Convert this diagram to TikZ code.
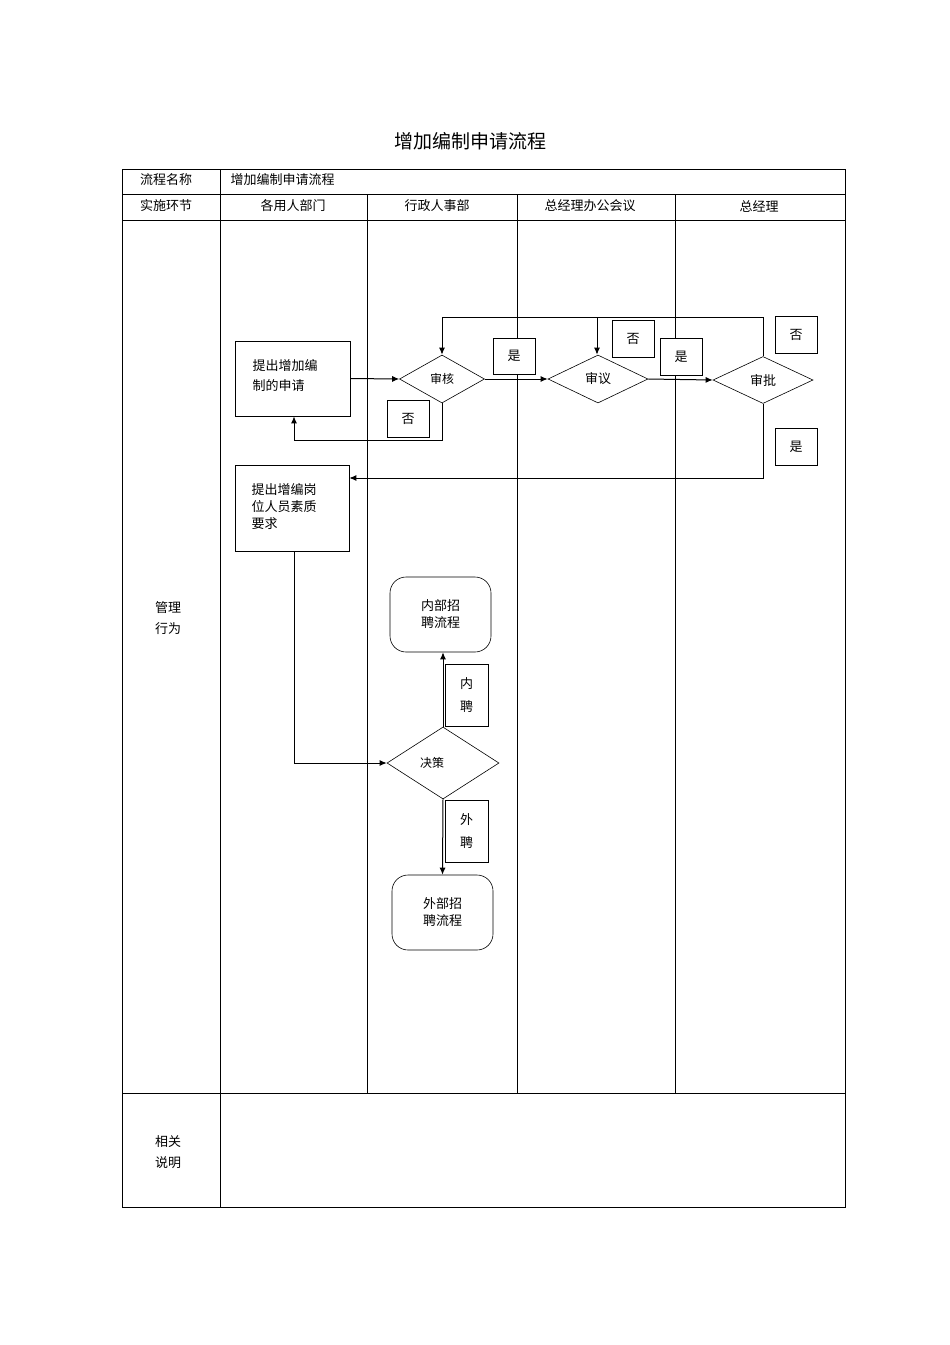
\documentclass[tikz,border=0pt]{standalone}
\usepackage{fontspec}
\setmainfont{Liberation Serif}
\newfontfamily\cjk{Noto Sans CJK SC}
\usetikzlibrary{shapes.geometric,arrows.meta}
\begin{document}
\begin{tikzpicture}[x=1pt,y=-1pt,font=\cjk\fontsize{13}{17}\selectfont,
 ln/.style={line width=0.6pt},
 box/.style={draw,line width=0.8pt,anchor=north west,align=left,inner sep=0},
 dia/.style={draw,diamond,aspect=1.8,inner sep=0,line width=0.6pt},
 term/.style={draw,rounded corners=16pt,inner sep=0,line width=0.6pt,align=center},
 lab/.style={draw,line width=0.6pt,inner sep=0,fill=white},
 ar/.style={line width=1pt,-{Latex[length=7pt,width=6pt]}}]
\useasboundingbox (0,0) rectangle (950,1345);
\node (title) at (470,141) {\fontsize{19}{22}\selectfont 增加编制申请流程};
% table
\draw[ln] (122,169) rectangle (845,1207);
\foreach \y in {194,220,1093} \draw[ln] (122,\y) -- (845,\y);
\draw[ln] (220,169) -- (220,1207);
\foreach \x in {367,517,675} \draw[ln] (\x,194) -- (\x,1093);
\node (h1) at (166,180) {流程名称};
\node[anchor=west] (h2) at (227,180) {增加编制申请流程};
\node (c1) at (166,206) {实施环节};
\node (c2) at (293,206) {各用人部门};
\node (c3) at (437,206) {行政人事部};
\node (c4) at (590,206) {总经理办公会议};
\node (c5) at (759,206) {总经理};
\node[align=center] (r1) at (168,618) {管理\\[4pt]行为};
\node[align=center] (r2) at (168,1152) {相关\\[4pt]说明};
% nodes
\node[draw,line width=0.8pt,minimum width=115pt,minimum height=75pt] (A) at (292.5,378.5) {};
\node[align=left] at (285,376) {提出增加编\\[3pt]制的申请};
\node[dia,minimum width=85pt,minimum height=48pt,font=\cjk\fontsize{12}{14}\selectfont] (sh) at (442,379) {审核};
\node[dia,minimum width=100pt,minimum height=48pt] (sy) at (598,379) {审议};
\node[dia,minimum width=100pt,minimum height=47pt] (sp) at (763,380) {审批};
\node[draw,line width=0.6pt,minimum width=114pt,minimum height=86pt] (B) at (292,508) {};
\node[align=left] at (284,507) {提出增编岗\\位人员素质\\要求};
\node[dia,minimum width=112pt,minimum height=72pt,font=\cjk\fontsize{12}{14}\selectfont] (jc) at (443,763) {\hspace*{-22pt}决策};
\node[term,minimum width=101pt,minimum height=75pt] (nb) at (440.5,614.5) {内部招\\聘流程};
\node[term,minimum width=101pt,minimum height=75pt] (wb) at (442.5,912.5) {外部招\\聘流程};
% edges
\draw[ar] (A.east) -- (sh.west);
\draw[ar] (sh.east) -- (sy.west);
\draw[ar] (sy.east) -- (sp.west);
\coordinate (k1) at (442,440); \coordinate (k2) at (294,440);
\draw[ar] (sh.south) -- (k1) -- (k2) -- (A.south -| k2);
\coordinate (t1) at (763,317); \coordinate (t2) at (442,317); \coordinate (t3) at (597,317);
\draw[ar] (sp.north) -- (t1) -- (t2) -- (sh.north);
\draw[ar] (t3) -- (sy.north -| t3);
\coordinate (b1) at (763,478);
\draw[ar] (sp.south) -- (b1) -- (B.east |- b1);
\coordinate (d1) at (294,763);
\draw[ar] (B.south -| d1) -- (d1) -- (jc.west);
\draw[ar] (jc.north) -- (nb.south -| jc.north);
\draw[ar] (jc.south) -- (wb.south |- wb.north);
% labels
\node[lab,minimum width=42pt,minimum height=36pt] (l1) at (514,356) {是};
\node[lab,minimum width=42pt,minimum height=37pt] (l2) at (408,418.5) {否};
\node[lab,minimum width=42pt,minimum height=37pt] (l3) at (633,338.5) {否};
\node[lab,minimum width=42pt,minimum height=37pt] (l4) at (681,356.5) {是};
\node[lab,minimum width=42pt,minimum height=37pt] (l5) at (796,334.5) {否};
\node[lab,minimum width=42pt,minimum height=37pt] (l6) at (796,446.5) {是};
\node[lab,minimum width=43pt,minimum height=62pt,align=center] (l7) at (466.5,695) {内\\[6pt]聘};
\node[lab,minimum width=43pt,minimum height=62pt,align=center] (l8) at (466.5,831) {外\\[6pt]聘};
\end{tikzpicture}
\end{document}
